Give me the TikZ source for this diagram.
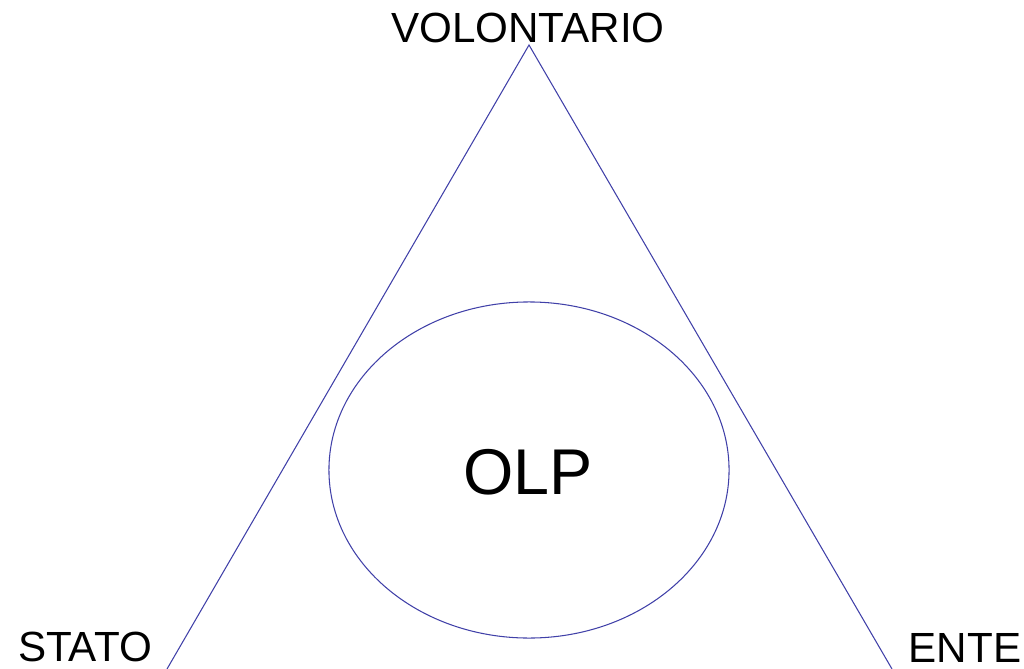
\documentclass[tikz,border=0pt]{standalone}
\usepackage{fontspec}
\setmainfont{Liberation Sans}
\usepackage{xcolor}
\usetikzlibrary{shapes.geometric,positioning}
\definecolor{edgeblue}{RGB}{64,64,168}

\begin{document}
\begin{tikzpicture}[
					x=0.025cm, y=-0.025cm,
					corner_label/.style={
							anchor=base,
							inner sep=0pt,
							font=\fontsize{30}{36}\selectfont
						},
					olp_ring/.style={
							ellipse,
							draw=edgeblue,
							line width=0.75pt,
							minimum width=10cm,
							minimum height=8.4cm,
							inner sep=0pt
						},
					side/.style={
							draw=edgeblue,
							line width=0.75pt
						}
				]
				\useasboundingbox (0,0) rectangle (1024,669);
				\clip (0,0) rectangle (1024,669);

				\coordinate (top) at (529,45);
				\coordinate (leftfoot) at (167,669);
				\coordinate (rightfoot) at (892,669);

				\node[corner_label] (VOL) at (528,43) {VOLONTARIO};
				\node[corner_label] (STATO) at (85,661) {STATO};
				\node[corner_label] (ENTE) at (965,662) {ENTE};

				\node[olp_ring] (OLP) at (529,470) {};
				\node[anchor=base, inner sep=0pt, font=\fontsize{46}{54}\selectfont]
					(OLPtext) at (528,494) {OLP};

				\draw[side] (leftfoot) -- (top) -- (rightfoot);
		\end{tikzpicture}
\end{document}
